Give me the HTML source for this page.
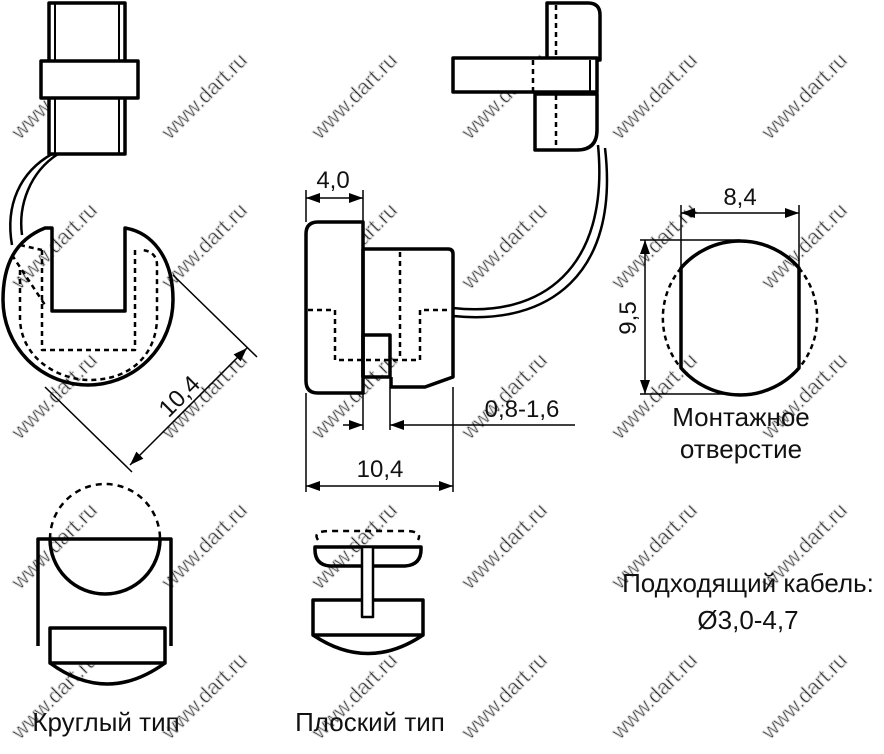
<!DOCTYPE html>
<html><head><meta charset="utf-8"><style>html,body{margin:0;padding:0;background:#fff}svg{display:block}text{font-family:"Liberation Sans",sans-serif;fill:#111}</style></head>
<body>
<svg width="884" height="754" viewBox="0 0 884 754" xmlns="http://www.w3.org/2000/svg">
<defs>
<marker id="a" markerWidth="14" markerHeight="10" refX="14" refY="5" orient="auto-start-reverse" markerUnits="userSpaceOnUse"><path d="M0,0 L14,5 L0,10 Z" fill="#000"/></marker>
</defs>
<g id="wm" style="fill:none;stroke:#d0d0d0;stroke-width:1" font-size="21">
<text transform="translate(20,140) rotate(-45)">www.dart.ru</text>
<text transform="translate(170,140) rotate(-45)">www.dart.ru</text>
<text transform="translate(320,140) rotate(-45)">www.dart.ru</text>
<text transform="translate(470,140) rotate(-45)">www.dart.ru</text>
<text transform="translate(620,140) rotate(-45)">www.dart.ru</text>
<text transform="translate(770,140) rotate(-45)">www.dart.ru</text>
<text transform="translate(20,290) rotate(-45)">www.dart.ru</text>
<text transform="translate(170,290) rotate(-45)">www.dart.ru</text>
<text transform="translate(320,290) rotate(-45)">www.dart.ru</text>
<text transform="translate(470,290) rotate(-45)">www.dart.ru</text>
<text transform="translate(620,290) rotate(-45)">www.dart.ru</text>
<text transform="translate(770,290) rotate(-45)">www.dart.ru</text>
<text transform="translate(20,440) rotate(-45)">www.dart.ru</text>
<text transform="translate(170,440) rotate(-45)">www.dart.ru</text>
<text transform="translate(320,440) rotate(-45)">www.dart.ru</text>
<text transform="translate(470,440) rotate(-45)">www.dart.ru</text>
<text transform="translate(620,440) rotate(-45)">www.dart.ru</text>
<text transform="translate(770,440) rotate(-45)">www.dart.ru</text>
<text transform="translate(20,590) rotate(-45)">www.dart.ru</text>
<text transform="translate(170,590) rotate(-45)">www.dart.ru</text>
<text transform="translate(320,590) rotate(-45)">www.dart.ru</text>
<text transform="translate(470,590) rotate(-45)">www.dart.ru</text>
<text transform="translate(620,590) rotate(-45)">www.dart.ru</text>
<text transform="translate(770,590) rotate(-45)">www.dart.ru</text>
<text transform="translate(20,740) rotate(-45)">www.dart.ru</text>
<text transform="translate(170,740) rotate(-45)">www.dart.ru</text>
<text transform="translate(320,740) rotate(-45)">www.dart.ru</text>
<text transform="translate(470,740) rotate(-45)">www.dart.ru</text>
<text transform="translate(620,740) rotate(-45)">www.dart.ru</text>
<text transform="translate(770,740) rotate(-45)">www.dart.ru</text>
</g>

<g fill="none" stroke="#000" stroke-width="3.5" stroke-linejoin="round">
<!-- LEFT TOP VIEW -->
<rect x="49" y="3" width="76" height="151" fill="#fff"/>
<line x1="55" y1="3" x2="55" y2="154" stroke-width="2"/>
<line x1="119" y1="3" x2="119" y2="154" stroke-width="2"/>
<rect x="41" y="61" width="97" height="37" fill="#fff"/>
<path d="M52,154 C20,172 5,205 12,245" stroke-width="2.5"/>
<path d="M58,154 C30,172 18,205 22,235" stroke-width="2.5"/>
<path d="M52,228 L52,311 L125,311 L125,228 C150,232 173,255 173,300 A85,85 0 0 1 3,300 C3,265 15,240 45,228 Z" fill="none"/>
<g stroke-width="2.5" stroke-dasharray="5,4">
<path d="M42,250 L42,350 L135,350 L135,250"/>
<path d="M20,270 L20,320 C22,360 60,380 90,380 C125,380 155,360 157,320 L157,265 C157,255 150,250 140,250"/>
<path d="M12,255 L45,305"/>
<path d="M20,245 L42,250"/>
</g>
<g stroke-width="1.5">
<line x1="173" y1="275" x2="257" y2="357"/>
<line x1="45" y1="387" x2="132" y2="472"/>
<line x1="130" y1="465" x2="247" y2="348" marker-start="url(#a)" marker-end="url(#a)"/>
</g>

<!-- MIDDLE SIDE VIEW -->
<path d="M363,222 L318,222 Q306,222 306,234 L306,381 Q306,393 318,393 L363,393 Z" fill="#fff"/>
<path d="M363,249 L448,249 Q453,249 453,254 L453,377 L425,387 L391,387 L391,377 M363,377 L363,249" />
<rect x="363" y="335" width="27" height="42"/>
<g stroke-width="2.5" stroke-dasharray="5,4">
<line x1="400" y1="252" x2="400" y2="357"/>
<path d="M308,310 L335,310 L335,360 L420,360 L420,310 L450,310"/>
</g>
<path d="M453,308 C540,318 610,270 598,145" stroke-width="2.5"/>
<path d="M453,316 C548,326 620,275 605,148" stroke-width="2.5"/>
<path d="M547,3 L588,3 Q600,3 600,15 L600,60 L547,60 Z" fill="#fff"/>
<rect x="453" y="58" width="144" height="34" fill="#fff"/>
<line x1="590" y1="60" x2="590" y2="92" stroke-width="2"/>
<path d="M535,94 L597,94 L597,130 Q597,150 577,150 L535,150 Z" fill="#fff"/>
<g stroke-width="2.5" stroke-dasharray="5,4">
<line x1="556" y1="5" x2="556" y2="58"/>
<line x1="533" y1="60" x2="533" y2="92"/>
<line x1="556" y1="95" x2="556" y2="148"/>
</g>
<g stroke-width="1.5">
<line x1="306" y1="190" x2="306" y2="222"/>
<line x1="363" y1="190" x2="363" y2="222"/>
<line x1="306" y1="198" x2="363" y2="198" marker-start="url(#a)" marker-end="url(#a)"/>
<line x1="363" y1="393" x2="363" y2="430"/>
<line x1="390" y1="387" x2="390" y2="430"/>
<line x1="343" y1="425" x2="363" y2="425" marker-end="url(#a)"/>
<line x1="575" y1="425" x2="390" y2="425" marker-end="url(#a)"/>
<line x1="306" y1="393" x2="306" y2="492"/>
<line x1="453" y1="387" x2="453" y2="492"/>
<line x1="306" y1="486" x2="453" y2="486" marker-start="url(#a)" marker-end="url(#a)"/>
</g>

<!-- MOUNTING HOLE -->
<path d="M681,268 A78,78 0 0 1 799,268 L799,368 A78,78 0 0 1 681,368 Z"/>
<path d="M681,268 A78,78 0 0 0 681,368 M799,268 A78,78 0 0 1 799,368" stroke-width="2.5" stroke-dasharray="5,4"/>
<g stroke-width="1.5">
<line x1="681" y1="205" x2="681" y2="268"/>
<line x1="799" y1="205" x2="799" y2="268"/>
<line x1="681" y1="213" x2="799" y2="213" marker-start="url(#a)" marker-end="url(#a)"/>
<line x1="640" y1="240" x2="740" y2="240"/>
<line x1="640" y1="394" x2="740" y2="394"/>
<line x1="645" y1="240" x2="645" y2="394" marker-start="url(#a)" marker-end="url(#a)"/>
</g>

<!-- ROUND TYPE -->
<path d="M38,646 L38,539 L171,539 L171,646"/>
<path d="M50,539 A55,55 0 0 0 160,539"/>
<path d="M50,539 A55,55 0 0 1 160,539" stroke-width="2.5" stroke-dasharray="6,5"/>
<rect x="50" y="628" width="115" height="35" fill="#fff"/>
<path d="M50,663 Q107,705 165,663"/>

<!-- FLAT TYPE -->
<path d="M318,540 Q312,531 330,531 L405,531 Q423,531 418,540" stroke-width="2.5" stroke-dasharray="6,5"/>
<path d="M315,547 L421,547 Q422,565 405,566 L330,566 Q314,565 315,547 Z"/>
<rect x="362" y="547" width="11" height="70" fill="#fff" stroke-width="2.5"/>
<path d="M362,600 L313,600 L313,635 L423,635 L423,600 L373,600"/>
<path d="M313,635 Q368,672 423,635"/>
</g>

<g font-size="24">
<text x="333" y="188" text-anchor="middle">4,0</text>
<text x="522" y="417" text-anchor="middle">0,8-1,6</text>
<text x="380" y="477" text-anchor="middle">10,4</text>
<text transform="translate(185,402) rotate(-45)" text-anchor="middle">10,4</text>
<text x="740" y="205" text-anchor="middle">8,4</text>
<text transform="translate(636,318) rotate(-90)" text-anchor="middle">9,5</text>
</g>
<g font-size="26">
<text x="741" y="426" text-anchor="middle">Монтажное</text>
<text x="741" y="458" text-anchor="middle">отверстие</text>
<text x="748" y="592" text-anchor="middle">Подходящий кабель:</text>
<text x="748" y="629" text-anchor="middle">Ø3,0-4,7</text>
<text x="106" y="731" text-anchor="middle">Круглый тип</text>
<text x="370" y="731" text-anchor="middle">Плоский тип</text>
</g>
</svg>
</body></html>
